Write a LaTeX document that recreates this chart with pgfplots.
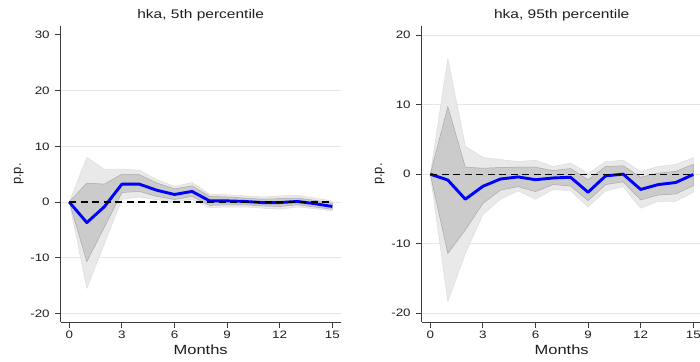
\documentclass[border=0pt]{standalone}
\usepackage{pgfplots}
\pgfplotsset{compat=1.18}
\usepackage{pgfplotstable}
\usepgfplotslibrary{fillbetween}
\usepackage{fontspec}
\setmainfont{Liberation Sans}[FakeStretch=1.24]
\newfontfamily\plainsans{Liberation Sans}

\definecolor{lightband}{HTML}{E9E9E9}
\definecolor{lightedge}{HTML}{DCDCDC}
\definecolor{darkband}{HTML}{CBCBCB}
\definecolor{darkedge}{HTML}{A9A9A9}
\definecolor{gridgray}{HTML}{E6E6E6}
\definecolor{axisgray}{HTML}{3C3C3C}
\definecolor{textgray}{HTML}{1E1E1E}

\pgfplotstableread{
m mean dlo dhi llo lhi
0 0 0 0 0 0
1 -3.7 -10.7 3.4 -15.5 8.0
2 -0.85 -4.5 3.2 -7.5 5.9
3 3.2 1.7 5.0 0.5 5.9
4 3.2 1.9 4.9 0.9 5.7
5 2.1 1.0 3.4 0.4 4.0
6 1.35 0.45 2.35 0.0 2.8
7 1.9 1.0 2.9 0.5 3.5
8 0.2 -0.6 1.0 -1.0 1.4
9 0.2 -0.5 0.9 -0.9 1.3
10 0.1 -0.5 0.7 -0.9 1.1
11 -0.1 -0.7 0.5 -1.1 0.9
12 -0.1 -0.8 0.6 -1.3 1.1
13 0.1 -0.5 0.7 -0.9 1.2
14 -0.3 -0.9 0.3 -1.2 0.7
15 -0.8 -1.3 -0.2 -1.6 0.2
}\leftdata

\pgfplotstableread{
m mean dlo dhi llo lhi
0 0 0 0 0 0
1 -0.85 -11.4 9.7 -18.3 16.6
2 -3.6 -8.0 1.0 -11.4 4.0
3 -1.75 -4.2 0.85 -5.8 2.4
4 -0.7 -2.3 0.95 -3.6 2.1
5 -0.4 -1.8 1.0 -2.4 1.8
6 -0.8 -2.5 1.0 -3.6 2.0
7 -0.55 -1.5 0.5 -2.2 1.1
8 -0.45 -1.7 0.8 -2.4 1.6
9 -2.6 -3.8 -0.8 -4.7 0.1
10 -0.25 -1.5 1.1 -2.4 1.8
11 0.0 -1.1 1.2 -1.8 2.0
12 -2.2 -3.7 -0.45 -4.9 0.4
13 -1.5 -3.0 0.15 -3.9 1.1
14 -1.2 -2.85 0.4 -3.9 1.4
15 -0.05 -1.65 1.4 -2.6 2.35
}\rightdata

\pgfplotsset{
  irf/.style={
    scale only axis, width=280bp, height=296.3bp,
    xmin=-0.49, xmax=15.48,
    axis x line*=bottom, axis y line*=left,
    axis line style={draw=axisgray, line width=0.9bp, -},
    tick align=outside, major tick length=5.5bp,
    tick style={draw=axisgray, line width=0.9bp},
    xtick={0,3,6,9,12,15}, xticklabels={0,3,6,9,12,15},
    ymajorgrids, grid style={draw=gridgray, line width=0.8bp},
    ticklabel style={font=\fontsize{10.8bp}{12bp}\selectfont, text=textgray},
    xticklabel style={anchor=base, yshift=-11bp},
    yticklabel style={anchor=east, xshift=-2bp},
    title style={at={(axis description cs:0.5,1)}, anchor=base, yshift=1.5bp, font=\fontsize{12.5bp}{14bp}\selectfont, text=textgray},
    xlabel={Months},
    xlabel style={at={(axis description cs:0.5,0)}, anchor=base, yshift=-32bp, font=\fontsize{13.3bp}{14bp}\selectfont, text=textgray},
    ylabel={p.p.},
    ylabel style={at={(axis description cs:0,0.5)}, yshift=39.8bp, anchor=base, font=\plainsans\fontsize{13bp}{14bp}\selectfont, text=textgray},
  },
}

\newcommand{\irfplots}[1]{%
  \addplot[draw=none, forget plot, name path=LU] table[x=m, y=lhi] {#1};
  \addplot[draw=none, forget plot, name path=LL] table[x=m, y=llo] {#1};
  \addplot[fill=lightband, draw=lightedge, line width=0.5bp, forget plot] fill between[of=LU and LL];
  \addplot[draw=none, forget plot, name path=DU] table[x=m, y=dhi] {#1};
  \addplot[draw=none, forget plot, name path=DL] table[x=m, y=dlo] {#1};
  \addplot[fill=darkband, draw=darkedge, line width=0.5bp, forget plot] fill between[of=DU and DL];
  \addplot[color=blue, line width=2.9bp, line join=round, mark=none] table[x=m, y=mean] {#1};
  \addplot[color=black, line width=1.1bp, dash pattern=on 7bp off 4.5bp, mark=none] coordinates {(0,0) (15,0)};
}

\begin{document}
\begin{tikzpicture}
\begin{axis}[irf, at={(0,0)}, anchor=south west,
  ymin=-21.6, ymax=31.6,
  ytick={-20,-10,0,10,20}, yticklabels={-20,-10,0,10,20},
  extra y ticks={30}, extra y tick labels={30},
  extra y tick style={ymajorgrids=false},
  title={hka, 5th percentile}]
\irfplots{\leftdata}
\end{axis}
\begin{axis}[irf, at={(361bp,0)}, anchor=south west,
  ymin=-21.3, ymax=21.3,
  ytick={-20,-10,0,10,20}, yticklabels={-20,-10,0,10,20},
  yticklabel style={xshift=0bp},
  title={hka, 95th percentile}]
\irfplots{\rightdata}
\end{axis}
\pgfresetboundingbox
\useasboundingbox (-60.7bp,-39.7bp) rectangle (639.3bp,322.3bp);
\end{tikzpicture}
\end{document}
